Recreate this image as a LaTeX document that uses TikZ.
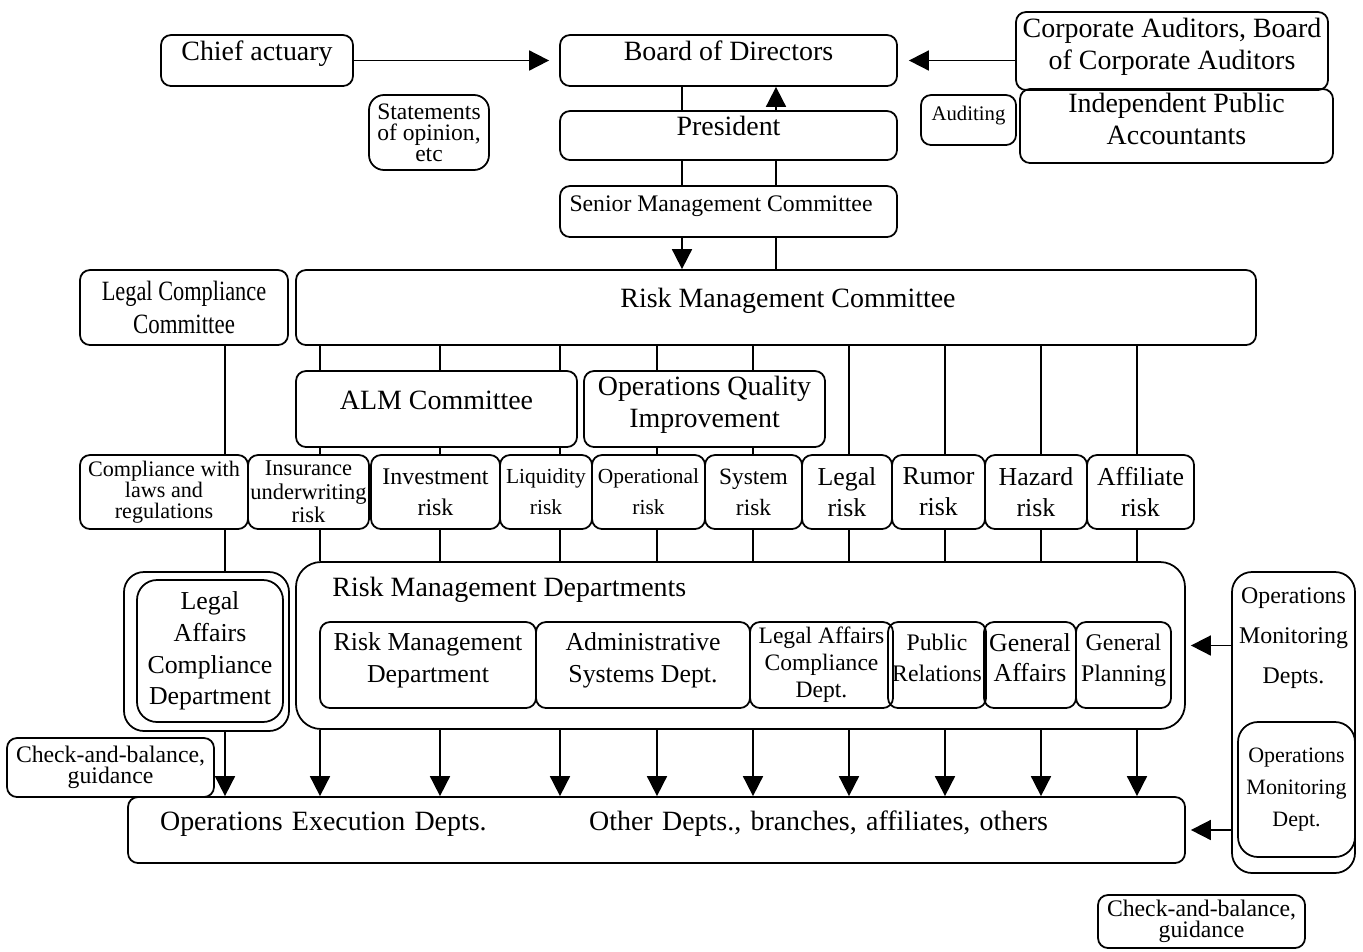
\documentclass[tikz,border=0pt]{standalone}
\usepackage{fontspec}
\setmainfont{Liberation Serif}
\usepackage{graphicx}
\usetikzlibrary{shapes,arrows.meta}
\newcommand{\fs}[2]{\fontsize{#1}{#2}\selectfont}
\newcommand{\boxnode}[7][]{%
  \node[BoxStyle,
        minimum width={(#5-#3)*0.02cm},
        minimum height={(#6-#4)*0.02cm},#1]
    (#2) at ({(#3+#5)/2},{(#4+#6)/2}) {#7};}
\tikzset{
  BoxStyle/.style   = {draw, rounded corners=0.2cm, inner sep=0pt,
                       align=center, line width=1pt, font=\fs{15.9}{18}},
  MidText/.style    = {text height=0.38cm, text depth=0.38cm},
  EdgeStyle/.style  = {line width=1pt},
  ArrowStyle/.style = {line width=1pt, -{Triangle[length=0.4cm,width=0.4cm]}}
}

\begin{document}
\begin{tikzpicture}[x=0.02cm, y=-0.02cm]
  \useasboundingbox (0,0) rectangle (1363,951);
  \coordinate (c0) at (225,0);
  \coordinate (c1) at (320,0);
  \coordinate (c2) at (440,0);
  \coordinate (c3) at (560,0);
  \coordinate (c4) at (657,0);
  \coordinate (c5) at (753,0);
  \coordinate (c6) at (849,0);
  \coordinate (c7) at (945,0);
  \coordinate (c8) at (1041,0);
  \coordinate (c9) at (1137,0);
  \coordinate (cl) at (682,0);
  \coordinate (cr) at (776,0);
  % top
  \boxnode[MidText]{chief}{161}{35}{353}{86}{Chief actuary}
  \boxnode[MidText]{board}{560}{35}{897}{86}{Board of Directors}
  \boxnode[text depth=0.3cm]{corp}{1016}{12}{1328}{90}{Corporate Auditors, Board\\of Corporate Auditors}
  \boxnode[MidText, font=\fs{11.8}{14}]{audit}{921}{95}{1016}{145}{Auditing}
  \boxnode[text depth=0.3cm]{ipa}{1020}{89}{1333}{163}{Independent Public\\Accountants}
  \boxnode[font=\fs{13.4}{12}, rounded corners=0.3cm]{stmt}{369}{95}{489}{170}{Statements\\of opinion,\\etc}
  \boxnode[MidText]{pres}{560}{111}{897}{160}{President}
  \boxnode[MidText, font=\fs{13.5}{16}]{senior}{560}{186}{897}{237}{Senior Management Committee\hspace{0.3cm}}
  % committees
  \boxnode[font=\fs{15.9}{19}]{lcc}{80}{270}{288}{345}{\scalebox{0.8}[1]{Legal Compliance}\\\scalebox{0.82}[1]{Committee}}
  \boxnode[MidText]{rmc}{296}{270}{1256}{345}{\hspace{0.48cm}Risk Management Committee}
  \boxnode[MidText]{alm}{296}{371}{577}{447}{ALM Committee}
  \boxnode[text depth=0.3cm]{oqi}{584}{371}{825}{447}{Operations Quality\\Improvement}
  % risks
  \boxnode[font=\fs{12.6}{12}]{law}{80}{455}{248}{529}{Compliance with\\laws and\\regulations}
  \boxnode[font=\fs{12.8}{13.3}]{ins}{248}{455}{369}{529}{Insurance\\underwriting\\risk}
  \boxnode[font=\fs{13.6}{17.5}]{inv}{371}{455}{500}{529}{Investment\\risk}
  \boxnode[font=\fs{12.2}{17.5}]{liq}{500}{455}{592}{529}{Liquidity\\risk}
  \boxnode[font=\fs{12.2}{17.5}]{ope}{592}{455}{705}{529}{Operational\\risk}
  \boxnode[font=\fs{13.3}{17.5}]{sys}{705}{455}{802}{529}{System\\risk}
  \boxnode[font=\fs{14.7}{17.5}]{leg}{802}{455}{892}{529}{Legal\\risk}
  \boxnode[font=\fs{14.7}{17.5}]{rum}{892}{455}{985}{529}{Rumor\\risk}
  \boxnode[font=\fs{14.7}{17.5}]{haz}{985}{455}{1087}{529}{Hazard\\risk}
  \boxnode[font=\fs{14.7}{17.5}]{aff}{1087}{455}{1194}{529}{Affiliate\\risk}
  % departments
  \boxnode[rounded corners=0.4cm]{lacd}{124}{572}{289}{731}{}
  \boxnode[rounded corners=0.4cm, font=\fs{14.7}{18}]{lacdin}{137}{580}{283}{722}{Legal\\Affairs\\Compliance\\Department}
  \boxnode[rounded corners=0.5cm,
    label={[name=rmdtitle, anchor=north west, inner sep=0pt, font=\fs{15.9}{18},
            xshift=0.74cm, yshift=-0.32cm]north west:Risk Management Departments}]{rmd}{296}{562}{1185}{729}{}
  \boxnode[font=\fs{14.7}{18}, text depth=0.3cm]{rmdept}{320}{622}{536}{708}{Risk Management\\Department}
  \boxnode[font=\fs{14.7}{18}, text depth=0.3cm]{adm}{536}{622}{750}{708}{Administrative\\Systems Dept.}
  \boxnode[font=\fs{13.4}{15.3}]{lacdept}{750}{622}{893}{708}{Legal Affairs\\Compliance\\Dept.}
  \boxnode[font=\fs{13.5}{17.6}, text depth=0.3cm]{pr}{888}{622}{986}{708}{Public\\Relations}
  \boxnode[font=\fs{14.7}{17.6}, text depth=0.3cm]{ga}{984}{622}{1076}{708}{General\\Affairs}
  \boxnode[font=\fs{13.6}{17.6}, text depth=0.3cm]{gp}{1076}{622}{1171}{708}{General\\Planning}
  \boxnode[rounded corners=0.4cm,
    label={[name=omdtitle, anchor=north, align=center, inner sep=0pt, font=\fs{13.6}{22.7},
            yshift=-0.32cm]north:Operations\\Monitoring\\Depts.}]{omd}{1232}{572}{1355}{873}{}
  \boxnode[rounded corners=0.4cm, font=\fs{12.5}{18}]{omdin}{1238}{722}{1355}{857}{Operations\\Monitoring\\Dept.}
  \boxnode[MidText, text width=19.86cm, align=left]{opsexec}{128}{797}{1185}{863}{Operations Execution Depts.\hspace{2.05cm}Other Depts., branches, affiliates, others}
  \boxnode[font=\fs{13.5}{12}]{cbleft}{7}{738}{214}{797}{Check-and-balance,\\guidance}
  \boxnode[font=\fs{13.5}{12}]{cbright}{1098}{895}{1305}{948}{Check-and-balance,\\guidance}
  % connectors
  \draw[ArrowStyle, shorten >=0.2cm] (chief) -- (board);
  \draw[ArrowStyle, shorten >=0.22cm] (corp.west |- board.east) -- (board.east);
  \draw[EdgeStyle] (board.south -| cl) -- (pres.north -| cl);
  \draw[ArrowStyle] (pres.north -| cr) -- (board.south -| cr);
  \draw[EdgeStyle] (pres.south -| cl) -- (senior.north -| cl)
                   (pres.south -| cr) -- (senior.north -| cr);
  \draw[ArrowStyle] (senior.south -| cl) -- (rmc.north -| cl);
  \draw[EdgeStyle] (senior.south -| cr) -- (rmc.north -| cr);
  \draw[EdgeStyle] (lcc.south -| c0) -- (law.north -| c0)
                   (law.south -| c0) -- (lacd.north -| c0);
  \draw[ArrowStyle] (lacd.south -| c0) -- (opsexec.north -| c0);
  \draw[EdgeStyle] (rmc.south -| c1) -- (alm.north -| c1)
                   (rmc.south -| c2) -- (alm.north -| c2)
                   (rmc.south -| c3) -- (alm.north -| c3)
                   (rmc.south -| c4) -- (oqi.north -| c4)
                   (rmc.south -| c5) -- (oqi.north -| c5)
                   (rmc.south -| c6) -- (leg.north -| c6)
                   (rmc.south -| c7) -- (rum.north -| c7)
                   (rmc.south -| c8) -- (haz.north -| c8)
                   (rmc.south -| c9) -- (aff.north -| c9);
  \draw[EdgeStyle] (alm.south -| c1) -- (ins.north -| c1)
                   (alm.south -| c2) -- (inv.north -| c2)
                   (alm.south -| c3) -- (liq.north -| c3)
                   (oqi.south -| c4) -- (ope.north -| c4)
                   (oqi.south -| c5) -- (sys.north -| c5);
  \draw[EdgeStyle] (ins.south -| c1) -- (rmd.north -| c1)
                   (inv.south -| c2) -- (rmd.north -| c2)
                   (liq.south -| c3) -- (rmd.north -| c3)
                   (ope.south -| c4) -- (rmd.north -| c4)
                   (sys.south -| c5) -- (rmd.north -| c5)
                   (leg.south -| c6) -- (rmd.north -| c6)
                   (rum.south -| c7) -- (rmd.north -| c7)
                   (haz.south -| c8) -- (rmd.north -| c8)
                   (aff.south -| c9) -- (rmd.north -| c9);
  \draw[ArrowStyle] (rmd.south -| c1) -- (opsexec.north -| c1);
  \draw[ArrowStyle] (rmd.south -| c2) -- (opsexec.north -| c2);
  \draw[ArrowStyle] (rmd.south -| c3) -- (opsexec.north -| c3);
  \draw[ArrowStyle] (rmd.south -| c4) -- (opsexec.north -| c4);
  \draw[ArrowStyle] (rmd.south -| c5) -- (opsexec.north -| c5);
  \draw[ArrowStyle] (rmd.south -| c6) -- (opsexec.north -| c6);
  \draw[ArrowStyle] (rmd.south -| c7) -- (opsexec.north -| c7);
  \draw[ArrowStyle] (rmd.south -| c8) -- (opsexec.north -| c8);
  \draw[ArrowStyle] (rmd.south -| c9) -- (opsexec.north -| c9);
  \draw[ArrowStyle, shorten >=0.1cm] (omd.west |- rmd.east) -- (rmd.east);
  \draw[ArrowStyle, shorten >=0.1cm] (omd.west |- opsexec.east) -- (opsexec.east);
\end{tikzpicture}
\end{document}
